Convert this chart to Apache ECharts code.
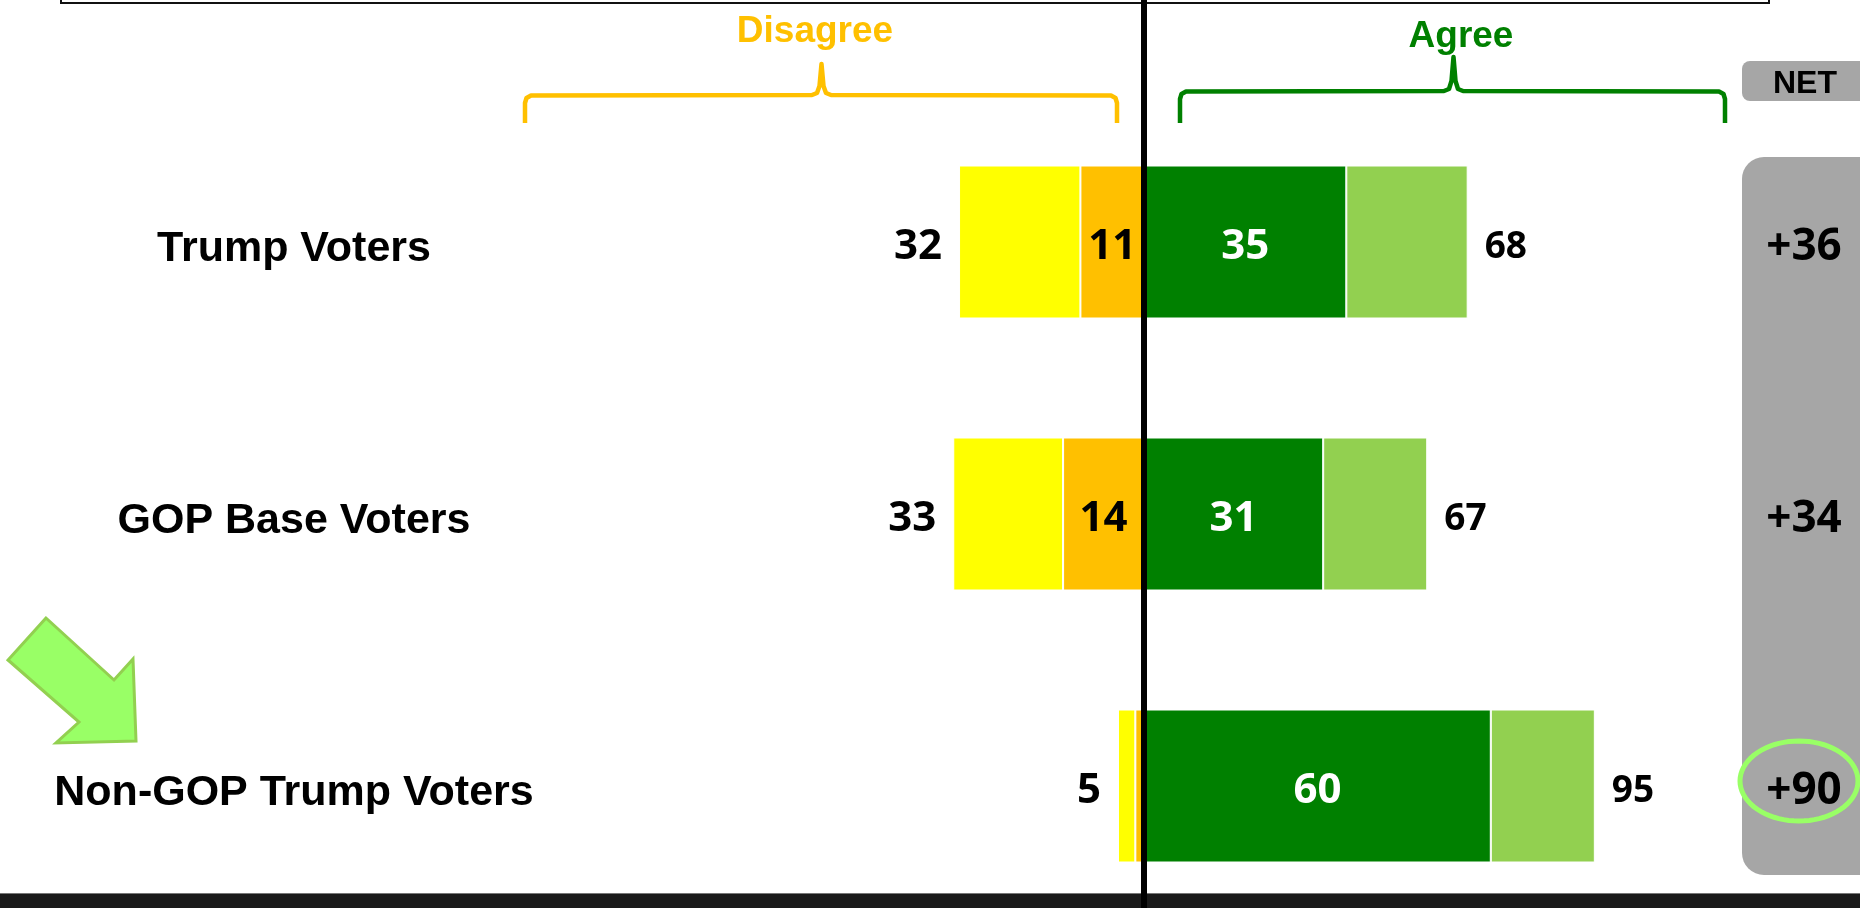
<!DOCTYPE html>
<html>
<head>
<meta charset="utf-8">
<script src="https://cdn.jsdelivr.net/npm/echarts@6/dist/echarts.min.js"></script>
<style>
html,body{margin:0;padding:0;background:#fff;}
#chart{width:1860px;height:908px;}
</style>
</head>
<body>
<div id="chart"></div>
<script>
// ---- data ----
const categories = ['Trump Voters', 'GOP Base Voters', 'Non-GOP Trump Voters'];
const strongDisagree = [11, 14, 1.5];
const somewhatDisagree = [21, 19, 3];
const strongAgree = [35, 31, 60];
const somewhatAgree = [21, 18, 18];
const disagreeTotals = [32, 33, 5];
const agreeTotals = [68, 67, 95];
const netValues = ['+36', '+34', '+90'];
const headerLabels = ['Disagree', 'Agree', 'NET'];

const chart = echarts.init(document.getElementById('chart'));

const numFont = '"Open Sans", sans-serif';
const txtFont = '"Liberation Sans", Arial, sans-serif';

const option = {
  animation: false,
  backgroundColor: '#ffffff',
  grid: { left: 566, width: 1156, top: 242, height: 544 },
  xAxis: {
    type: 'value', min: -100, max: 100, show: false
  },
  yAxis: [
    {
      type: 'category', data: categories, inverse: true, boundaryGap: false,
      axisLine: { show: false }, axisTick: { show: false }, splitLine: { show: false },
      axisLabel: {
        margin: 272, align: 'center', verticalAlign: 'top', lineHeight: 14,
        fontFamily: txtFont, fontWeight: 'bold', fontSize: 43, color: '#000'
      }
    },
    {
      type: 'category', data: categories, inverse: true, boundaryGap: false, position: 'right', z: 10,
      axisLine: { show: false }, axisTick: { show: false }, splitLine: { show: false },
      axisLabel: {
        margin: 82, align: 'center', verticalAlign: 'top', lineHeight: 10,
        fontFamily: numFont, fontWeight: 'bold', fontSize: 44, color: '#000',
        formatter: (v, i) => netValues[i]
      }
    }
  ],
  series: [
    {
      name: 'Strongly disagree', type: 'bar', stack: 'all', barWidth: 153,
      data: strongDisagree.map(v => -v),
      itemStyle: { color: '#FFC000', borderColor: '#fff', borderWidth: 1 },
      label: {
        show: true, position: 'inside', color: '#000', offset: [0, 5],
        fontFamily: numFont, fontWeight: 'bold', fontSize: 42,
        formatter: p => (strongDisagree[p.dataIndex] >= 5 ? String(strongDisagree[p.dataIndex]) : '')
      }
    },
    {
      name: 'Somewhat disagree', type: 'bar', stack: 'all', barWidth: 153,
      data: somewhatDisagree.map(v => -v),
      itemStyle: { color: '#FFFF00', borderColor: '#fff', borderWidth: 1 },
      label: {
        show: true, position: 'left', distance: 17, color: '#000', offset: [0, 5],
        fontFamily: numFont, fontWeight: 'bold', fontSize: 42,
        formatter: p => String(disagreeTotals[p.dataIndex])
      }
    },
    {
      name: 'Strongly agree', type: 'bar', stack: 'all', barWidth: 153,
      data: strongAgree,
      itemStyle: { color: '#008000', borderColor: '#fff', borderWidth: 1 },
      label: {
        show: true, position: 'inside', color: '#fff', offset: [0, 5],
        fontFamily: numFont, fontWeight: 'bold', fontSize: 42,
        formatter: p => String(strongAgree[p.dataIndex])
      }
    },
    {
      name: 'Somewhat agree', type: 'bar', stack: 'all', barWidth: 153,
      data: somewhatAgree,
      itemStyle: { color: '#92D050', borderColor: '#fff', borderWidth: 1 },
      label: {
        show: true, position: 'right', distance: 17, color: '#000', offset: [0, 5],
        fontFamily: numFont, fontWeight: 'bold', fontSize: 37,
        formatter: p => String(agreeTotals[p.dataIndex])
      }
    }
  ]
};

chart.setOption(option);

const x0 = chart.convertToPixel({ xAxisIndex: 0 }, 0);

// ellipse outline points (decoration)
const ellPts = [];
for (let k = 0; k < 72; k++) {
  const a = k / 72 * Math.PI * 2;
  ellPts.push([1799 + 59 * Math.cos(a), 781 + 40 * Math.sin(a)]);
}

chart.setOption({
  graphic: [
    // top frame (mostly off-canvas)
    { type: 'rect', z: 1, shape: { x: 61, y: -40, width: 1708, height: 43 },
      style: { fill: 'none', stroke: '#111', lineWidth: 2 } },
    // grey NET column
    { type: 'rect', z: 0, shape: { x: 1742, y: 157, width: 140, height: 718, r: 22 },
      style: { fill: '#A6A6A6' } },
    { type: 'rect', z: 0, shape: { x: 1742, y: 61, width: 140, height: 40, r: 8 },
      style: { fill: '#A6A6A6' } },
    { type: 'text', z: 5, x: 1805, y: 84,
      style: { text: headerLabels[2], fill: '#000', font: 'bold 32px ' + txtFont, align: 'center', verticalAlign: 'middle' } },
    // headers
    { type: 'text', z: 5, x: 815, y: 32,
      style: { text: headerLabels[0], fill: '#FFC000', font: 'bold 37px ' + txtFont, align: 'center', verticalAlign: 'middle' } },
    { type: 'text', z: 5, x: 1461, y: 37,
      style: { text: headerLabels[1], fill: '#008000', font: 'bold 37px ' + txtFont, align: 'center', verticalAlign: 'middle' } },
    // brackets
    { type: 'polyline', z: 5,
      shape: { points: [[525,123],[525,103],[526.5,98],[531,95.5],[812,95],[817,93],[819.5,86],[820.5,75],[821.5,64],[822.5,75],[823.5,86],[826,93],[831,95],[1111,95.5],[1115.5,98],[1117,103],[1117,123]] },
      style: { fill: 'none', stroke: '#FFC000', lineWidth: 4.5, lineJoin: 'round' } },
    { type: 'polyline', z: 5,
      shape: { points: [[1180,123],[1180,99],[1181.5,94],[1186,91.5],[1444,91],[1449,89],[1451.5,81],[1452.5,69],[1453.5,57],[1454.5,69],[1455.5,81],[1458,89],[1463,91],[1719,91.5],[1723.5,94],[1725,99],[1725,123]] },
      style: { fill: 'none', stroke: '#008000', lineWidth: 4.5, lineJoin: 'round' } },
    // arrow
    { type: 'polygon', z: 5,
      shape: { points: [[46, 618], [8, 660], [79, 722], [56, 743], [136, 741], [133, 659], [114, 680]] },
      style: { fill: '#99FF66', stroke: '#92D050', lineWidth: 3 } },
    // ellipse around +90
    { type: 'polygon', z: 20,
      shape: { points: ellPts },
      style: { fill: 'none', stroke: '#99FF66', lineWidth: 5 } },
    // bottom band
    { type: 'rect', z: 15, shape: { x: 0, y: 893, width: 1860, height: 15 },
      style: { fill: '#1a1a1a' } },
    { type: 'line', z: 15, shape: { x1: 0, y1: 893.5, x2: 1860, y2: 893.5 },
      style: { stroke: '#777', lineWidth: 1 } },
    // zero line
    { type: 'line', z: 30, shape: { x1: x0, y1: 0, x2: x0, y2: 908 },
      style: { stroke: '#000', lineWidth: 6 } }
  ]
});
</script>
</body>
</html>
